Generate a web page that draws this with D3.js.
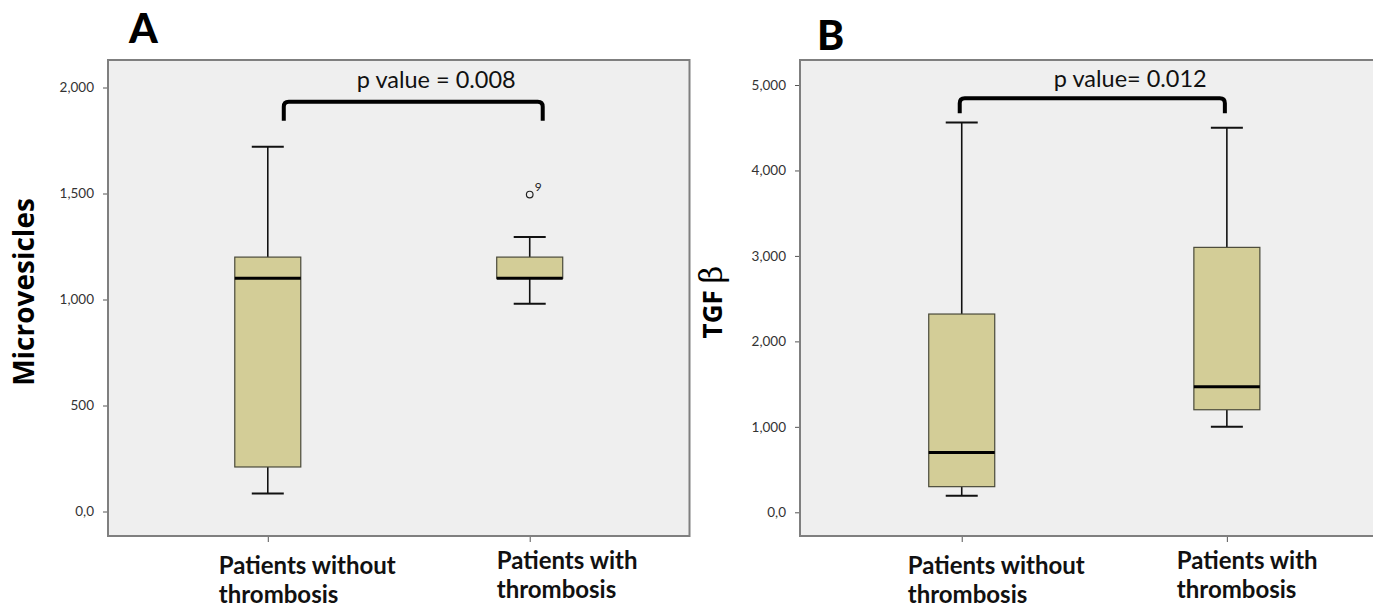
<!DOCTYPE html>
<html>
<head>
<meta charset="utf-8">
<title>Microvesicles and TGF beta boxplots</title>
<script src="https://d3js.org/d3.v7.min.js"></script>
<style>
    body { margin: 0; background: #fff; }
    svg { display: block; }
    .tick text { font-family: Lato, "Open Sans", sans-serif; font-size: 13.5px; fill: #333; }
</style>
</head>
<body>
<div id="chart"></div>
<script>
// categories on the x axis (two lines each)
var categories = ["Patients without thrombosis", "Patients with thrombosis"];
var catLines = [["Patients without", "thrombosis"], ["Patients with", "thrombosis"]];

// panel A - microvesicles
var mvLow = [85, 980];
var mvQ1 = [210, 1100];
var mvMedian = [1100, 1100];
var mvQ3 = [1200, 1200];
var mvHigh = [1720, 1295];
var mvOutliers = [{ group: 1, value: 1495, label: "9" }];
var mvTicks = [0, 500, 1000, 1500, 2000];
var mvTickLabels = ["0,0", "500", "1,000", "1,500", "2,000"];

// panel B - TGF beta
var tgfLow = [195, 1000];
var tgfQ1 = [300, 1200];
var tgfMedian = [700, 1470];
var tgfQ3 = [2320, 3100];
var tgfHigh = [4560, 4500];
var tgfOutliers = [];
var tgfTicks = [0, 1000, 2000, 3000, 4000, 5000];
var tgfTickLabels = ["0,0", "1,000", "2,000", "3,000", "4,000", "5,000"];

var pTexts = ["p value = 0.008", "p value= 0.012"];

var svg = d3.select("#chart").append("svg")
    .attr("width", 1373)
    .attr("height", 607);

function drawPanel(opt) {
    var g = svg.append("g");
    var x = d3.scalePoint().domain(categories).range([opt.left, opt.right]).padding(0.61);
    var y = d3.scaleLinear().domain(opt.domain).range([opt.y0, opt.y1]);

    // plot background + frame
    g.append("rect")
        .attr("x", opt.left).attr("y", opt.top)
        .attr("width", opt.right - opt.left).attr("height", opt.bottom - opt.top)
        .attr("fill", "#efefef")
        .attr("stroke", "#7f7f7f")
        .attr("stroke-width", 2);

    // y axis
    var yAxis = g.append("g")
        .attr("transform", "translate(" + (opt.left - 1) + ",0)")
        .call(d3.axisLeft(y).tickValues(opt.ticks).tickSize(4).tickPadding(9)
            .tickFormat(function (d, i) { return opt.tickLabels[i]; }));
    yAxis.select(".domain").remove();
    yAxis.selectAll(".tick line").attr("stroke", "#555");

    // x axis ticks
    var xAxis = g.append("g")
        .attr("transform", "translate(0," + (opt.bottom + 1) + ")")
        .call(d3.axisBottom(x).tickSize(5).tickFormat(""));
    xAxis.select(".domain").remove();
    xAxis.selectAll(".tick line").attr("stroke", "#555");

    // x labels
    categories.forEach(function (c, i) {
        var t = g.append("text")
            .attr("font-family", "Lato, 'Open Sans', sans-serif")
            .attr("font-weight", "bold")
            .attr("font-size", 24)
            .attr("fill", "#111");
        catLines[i].forEach(function (line, j) {
            t.append("tspan")
                .attr("x", x(c) + opt.labelDx[i])
                .attr("y", opt.labelY[i] + j * 29)
                .text(line);
        });
    });

    var boxW = 66, capW = 32;
    var boxes = g.selectAll(".box").data(categories).enter().append("g").attr("class", "box");

    // whiskers
    boxes.append("line")
        .attr("x1", function (d) { return x(d); }).attr("x2", function (d) { return x(d); })
        .attr("y1", function (d, i) { return y(opt.q3[i]); })
        .attr("y2", function (d, i) { return y(opt.high[i]); })
        .attr("stroke", "#111").attr("stroke-width", 1.6);
    boxes.append("line")
        .attr("x1", function (d) { return x(d); }).attr("x2", function (d) { return x(d); })
        .attr("y1", function (d, i) { return y(opt.q1[i]); })
        .attr("y2", function (d, i) { return y(opt.low[i]); })
        .attr("stroke", "#111").attr("stroke-width", 1.6);
    // caps
    [opt.high, opt.low].forEach(function (arr) {
        boxes.append("line")
            .attr("x1", function (d) { return x(d) - capW / 2; })
            .attr("x2", function (d) { return x(d) + capW / 2; })
            .attr("y1", function (d, i) { return y(arr[i]); })
            .attr("y2", function (d, i) { return y(arr[i]); })
            .attr("stroke", "#111").attr("stroke-width", 2);
    });
    // boxes
    boxes.append("rect")
        .attr("x", function (d) { return x(d) - boxW / 2; })
        .attr("width", boxW)
        .attr("y", function (d, i) { return y(opt.q3[i]); })
        .attr("height", function (d, i) { return y(opt.q1[i]) - y(opt.q3[i]); })
        .attr("fill", "#d3cd97")
        .attr("stroke", "#4a4a3a")
        .attr("stroke-width", 1.2);
    // medians
    boxes.append("line")
        .attr("x1", function (d) { return x(d) - boxW / 2; })
        .attr("x2", function (d) { return x(d) + boxW / 2; })
        .attr("y1", function (d, i) { return y(opt.median[i]); })
        .attr("y2", function (d, i) { return y(opt.median[i]); })
        .attr("stroke", "#000").attr("stroke-width", 3);

    // outliers
    opt.outliers.forEach(function (o) {
        var cx = x(categories[o.group]);
        g.append("circle")
            .attr("cx", cx).attr("cy", y(o.value)).attr("r", 3.3)
            .attr("fill", "none").attr("stroke", "#222").attr("stroke-width", 1.2);
        g.append("text")
            .attr("x", cx + 5).attr("y", y(o.value) - 4)
            .attr("font-family", "Lato, sans-serif").attr("font-size", 12)
            .attr("fill", "#222")
            .text(o.label);
    });

    // significance bracket
    var bx1 = x(categories[0]) + opt.bracketDx[0], bx2 = x(categories[1]) + opt.bracketDx[1];
    var by = y(opt.bracket[0]), byl = y(opt.bracket[1]), r = 5;
    g.append("path")
        .attr("d", "M" + bx1 + "," + byl + " L" + bx1 + "," + (by + r) +
            " Q" + bx1 + "," + by + " " + (bx1 + r) + "," + by +
            " L" + (bx2 - r) + "," + by +
            " Q" + bx2 + "," + by + " " + bx2 + "," + (by + r) +
            " L" + bx2 + "," + byl)
        .attr("fill", "none").attr("stroke", "#000").attr("stroke-width", 4);
    g.append("text")
        .attr("x", (bx1 + bx2) / 2 + opt.pDx).attr("y", opt.pY)
        .attr("text-anchor", "middle")
        .attr("font-family", "Lato, 'Open Sans', sans-serif")
        .attr("font-size", 23.5)
        .attr("fill", "#111")
        .text(opt.pText);

    // panel letter
    g.append("text")
        .attr("x", opt.letterX).attr("y", opt.letterY)
        .attr("font-family", "Lato, 'Open Sans', sans-serif")
        .attr("font-weight", 900)
        .attr("font-size", 41)
        .attr("fill", "#000")
        .text(opt.letter);

    // y title
    var yt = g.append("text")
        .attr("transform", "translate(" + opt.titleX + "," + opt.titleY + ") rotate(-90)")
        .attr("text-anchor", "middle")
        .attr("font-family", "'Open Sans', sans-serif")
        .attr("font-weight", "bold")
        .attr("font-size", opt.titleSize)
        .attr("fill", "#000");
    yt.append("tspan").text(opt.title);
    if (opt.titleExtra) {
        yt.append("tspan")
            .attr("font-family", "'DejaVu Serif', serif")
            .attr("font-weight", "normal")
            .attr("font-size", 31)
            .text(opt.titleExtra);
    }
}

drawPanel({
    left: 108, right: 689.5, top: 60, bottom: 536,
    domain: [0, 2000], y0: 511.5, y1: 87.5,
    ticks: mvTicks, tickLabels: mvTickLabels,
    low: mvLow, q1: mvQ1, median: mvMedian, q3: mvQ3, high: mvHigh,
    outliers: mvOutliers,
    bracket: [1933, 1843], bracketDx: [16, 13],
    pText: pTexts[0], pDx: 23, pY: 88,
    labelDx: [-49, -33], labelY: [574, 569],
    letter: "A", letterX: 129, letterY: 43,
    title: "Microvesicles", titleSize: 28, titleX: 34, titleY: 292
});

drawPanel({
    left: 800, right: 1388.6, top: 60, bottom: 536,
    domain: [0, 5000], y0: 512.3, y1: 85,
    ticks: tgfTicks, tickLabels: tgfTickLabels,
    low: tgfLow, q1: tgfQ1, median: tgfMedian, q3: tgfQ3, high: tgfHigh,
    outliers: tgfOutliers,
    bracket: [4844, 4669], bracketDx: [-2, -2],
    pText: pTexts[1], pDx: 38, pY: 87,
    labelDx: [-54, -50], labelY: [574, 569],
    letter: "B", letterX: 817, letterY: 50,
    title: "TGF ", titleExtra: "\u03b2", titleSize: 26, titleX: 722, titleY: 302
});
</script>
</body>
</html>
